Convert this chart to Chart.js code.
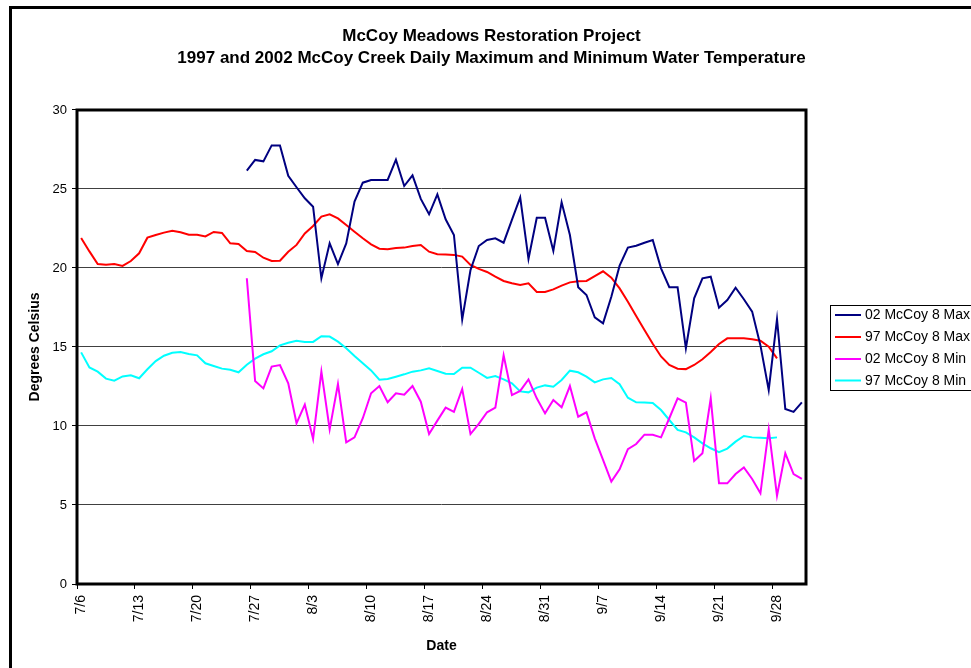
<!DOCTYPE html>
<html>
<head>
<meta charset="utf-8">
<script src="https://cdn.jsdelivr.net/npm/chart.js@4/dist/chart.umd.min.js"></script>
<style>
  html, body { margin: 0; padding: 0; background: #ffffff; }
  #wrap { width: 971px; height: 668px; }
</style>
</head>
<body>
<div id="wrap"><canvas id="c" width="971" height="668"></canvas></div>
<script>
// ---------- DATA ----------
const dates = [
  "7/6","7/7","7/8","7/9","7/10","7/11","7/12","7/13","7/14","7/15","7/16","7/17","7/18","7/19","7/20",
  "7/21","7/22","7/23","7/24","7/25","7/26","7/27","7/28","7/29","7/30","7/31",
  "8/1","8/2","8/3","8/4","8/5","8/6","8/7","8/8","8/9","8/10","8/11","8/12","8/13","8/14","8/15",
  "8/16","8/17","8/18","8/19","8/20","8/21","8/22","8/23","8/24","8/25","8/26","8/27","8/28","8/29","8/30","8/31",
  "9/1","9/2","9/3","9/4","9/5","9/6","9/7","9/8","9/9","9/10","9/11","9/12","9/13","9/14","9/15",
  "9/16","9/17","9/18","9/19","9/20","9/21","9/22","9/23","9/24","9/25","9/26","9/27","9/28","9/29","9/30",
  "10/1"
];

const seriesNames = ["02 McCoy 8 Max", "97 McCoy 8 Max", "02 McCoy 8 Min", "97 McCoy 8 Min"];

// 2002 daily maximum (starts 7/26)
const max2002 = [
  null,null,null,null,null,null,null,null,null,null,null,null,null,null,null,null,null,null,null,null,
  26.16,26.84,26.75,27.76,27.76,25.84,25.11,24.41,23.88,19.35,
  21.56,20.25,21.56,24.2,25.4,25.57,25.57,25.57,26.86,25.19,
  25.86,24.37,23.4,24.66,23.08,22.09,16.75,19.87,21.39,21.77,
  21.88,21.6,23.04,24.47,20.57,23.18,23.18,21.08,24.16,22.09,
  18.78,18.29,16.88,16.5,18.18,20.15,21.29,21.41,21.6,21.77,
  19.98,18.78,18.78,14.92,18.08,19.35,19.45,17.49,17.97,18.75,
  18.02,17.24,15.1,12.28,16.77,11.08,10.89,11.5
];

// 1997 daily maximum (7/6 - 9/28)
const max1997 = [
  21.9,21.05,20.25,20.2,20.25,20.13,20.44,20.93,21.92,22.09,
  22.24,22.36,22.26,22.11,22.11,22.0,22.28,22.22,21.56,21.52,
  21.08,21.01,20.65,20.44,20.46,21.03,21.46,22.19,22.66,23.25,
  23.4,23.14,22.72,22.3,21.88,21.5,21.22,21.18,21.27,21.29,
  21.39,21.46,21.03,20.87,20.85,20.83,20.72,20.19,19.94,19.75,
  19.45,19.18,19.03,18.92,19.03,18.48,18.48,18.65,18.88,19.09,
  19.16,19.18,19.49,19.79,19.39,18.71,17.87,16.96,16.08,15.2,
  14.4,13.86,13.63,13.6,13.86,14.22,14.68,15.19,15.55,15.55,
  15.55,15.49,15.4,15.02,14.28,null,null,null
];

// 2002 daily minimum (starts 7/26)
const min2002 = [
  null,null,null,null,null,null,null,null,null,null,null,null,null,null,null,null,null,null,null,null,
  19.35,12.85,12.38,13.76,13.86,12.7,10.17,11.35,9.18,13.44,
  9.79,12.66,8.97,9.28,10.49,12.07,12.53,11.5,12.07,11.98,
  12.53,11.54,9.49,10.34,11.16,10.89,12.34,9.49,10.13,10.87,
  11.16,14.47,11.96,12.22,12.95,11.75,10.8,11.65,11.18,12.53,
  10.59,10.87,9.22,7.85,6.48,7.26,8.54,8.86,9.45,9.45,
  9.28,10.49,11.75,11.48,7.78,8.27,11.75,6.37,6.37,6.96,
  7.38,6.65,5.74,9.79,5.59,8.27,6.96,6.65
];

// 1997 daily minimum (7/6 - 9/28)
const min1997 = [
  14.66,13.71,13.44,13.0,12.87,13.14,13.21,13.02,13.59,14.11,
  14.45,14.64,14.68,14.56,14.47,13.97,13.8,13.63,13.56,13.4,
  13.88,14.26,14.54,14.73,15.1,15.27,15.4,15.32,15.32,15.68,
  15.66,15.34,14.92,14.43,13.97,13.52,12.93,12.97,13.12,13.27,
  13.44,13.52,13.65,13.48,13.31,13.29,13.69,13.69,13.37,13.04,
  13.16,12.95,12.7,12.19,12.13,12.43,12.57,12.49,12.91,13.5,
  13.4,13.12,12.76,12.95,13.04,12.64,11.79,11.5,11.48,11.46,
  11.01,10.38,9.75,9.6,9.28,8.9,8.59,8.35,8.57,9.01,
  9.37,9.28,9.26,9.22,9.28,null,null,null
];

const yTicks = [0, 5, 10, 15, 20, 25, 30];
const titleLines = ["McCoy Meadows Restoration Project",
  "1997 and 2002 McCoy Creek Daily Maximum and Minimum Water Temperature"];

// ---------- STYLE ----------
const FONT = "'Liberation Sans', Arial, Helvetica, sans-serif";
const colors = ["#000080", "#FF0000", "#FF00FF", "#00FFFF"];
const seriesData = [max2002, max1997, min2002, min1997];

// custom legend as a layout box on the right
const legendPlugin = {
  id: 'excelLegend',
  beforeInit(chart) {
    const box = {
      position: 'right', weight: 0, fullSize: false,
      options: { stackWeight: 1 },
      left: 0, top: 0, right: 0, bottom: 0, width: 0, height: 0,
      isHorizontal() { return false; },
      update(maxWidth, maxHeight) { this.width = 165; this.height = maxHeight; },
      draw() {
        const ctx = chart.ctx;
        const bx = 830.5, by = 305.5, bh = 85;
        ctx.save();
        ctx.strokeStyle = '#000'; ctx.lineWidth = 1;
        ctx.strokeRect(bx, by, 200, bh);
        ctx.font = '14px ' + FONT;
        ctx.textBaseline = 'middle';
        ctx.textAlign = 'left';
        const rows = [315, 337, 359, 380.5];
        chart.data.datasets.forEach((ds, i) => {
          const y = rows[i];
          ctx.strokeStyle = ds.borderColor; ctx.lineWidth = 2;
          ctx.beginPath(); ctx.moveTo(835, y); ctx.lineTo(861, y); ctx.stroke();
          ctx.fillStyle = '#000';
          ctx.fillText(ds.label, 865, y + 0.5);
        });
        ctx.restore();
      }
    };
    Chart.layouts.addBox(chart, box);
  }
};

const framePlugin = {
  id: 'frames',
  beforeDraw(chart) {
    const ctx = chart.ctx;
    ctx.save();
    ctx.fillStyle = '#fff';
    ctx.fillRect(0, 0, chart.width, chart.height);
    ctx.restore();
  },
  afterDraw(chart) {
    const ctx = chart.ctx, ca = chart.chartArea;
    ctx.save();
    ctx.strokeStyle = '#000';
    ctx.lineWidth = 3;
    ctx.beginPath();
    ctx.moveTo(10.5, 700); ctx.lineTo(10.5, 7.5); ctx.lineTo(1000, 7.5);
    ctx.stroke();
    ctx.strokeRect(ca.left, ca.top, ca.right - ca.left, ca.bottom - ca.top);
    ctx.restore();
  }
};

new Chart(document.getElementById('c'), {
  type: 'line',
  data: {
    labels: dates,
    datasets: seriesNames.map((name, i) => ({
      label: name,
      data: seriesData[i],
      borderColor: colors[i],
      backgroundColor: colors[i],
      borderWidth: 2,
      pointRadius: 0,
      pointHoverRadius: 0,
      tension: 0,
      fill: false,
      spanGaps: false
    }))
  },
  options: {
    responsive: false,
    animation: false,
    devicePixelRatio: 1,
    layout: { padding: { left: 12, top: 0, right: 0, bottom: 0 } },
    plugins: {
      legend: { display: false },
      tooltip: { enabled: false },
      title: {
        display: true,
        text: titleLines,
        color: '#000',
        font: { family: FONT, size: 17, weight: 'bold', lineHeight: 1.294 },
        padding: { top: 25, bottom: 41 }
      }
    },
    scales: {
      x: {
        type: 'category',
        offset: true,
        afterFit(scale) { scale.height = 84; },
        grid: {
          offset: true,
          drawOnChartArea: false,
          drawTicks: true,
          tickLength: 5,
          tickWidth: 1,
          tickColor: (ctx) => (ctx.index % 7 === 0 ? '#000' : 'rgba(0,0,0,0)'),
          color: 'rgba(0,0,0,0)'
        },
        border: { display: false },
        ticks: {
          autoSkip: false,
          maxRotation: 90,
          minRotation: 90,
          padding: 6,
          color: '#000',
          font: { family: FONT, size: 14 },
          callback: function (val, idx) { return idx % 7 === 0 ? this.getLabelForValue(val) : ''; }
        },
        title: {
          display: true,
          text: 'Date',
          color: '#000',
          font: { family: FONT, size: 14, weight: 'bold' },
          padding: { top: 0, bottom: 13.6 }
        }
      },
      y: {
        min: 0,
        max: 30,
        afterFit(scale) { scale.width = 65; },
        afterBuildTicks(scale) { scale.ticks = yTicks.map(v => ({ value: v })); },
        grid: {
          color: '#404040',
          lineWidth: 1,
          drawTicks: true,
          tickLength: 5,
          tickColor: '#000'
        },
        border: { display: false },
        ticks: {
          padding: 5,
          color: '#000',
          font: { family: FONT, size: 13 }
        },
        title: {
          display: true,
          text: 'Degrees Celsius',
          color: '#000',
          font: { family: FONT, size: 14, weight: 'bold' },
          padding: { top: 14.6, bottom: 0 }
        }
      }
    }
  },
  plugins: [legendPlugin, framePlugin]
});
</script>
</body>
</html>
